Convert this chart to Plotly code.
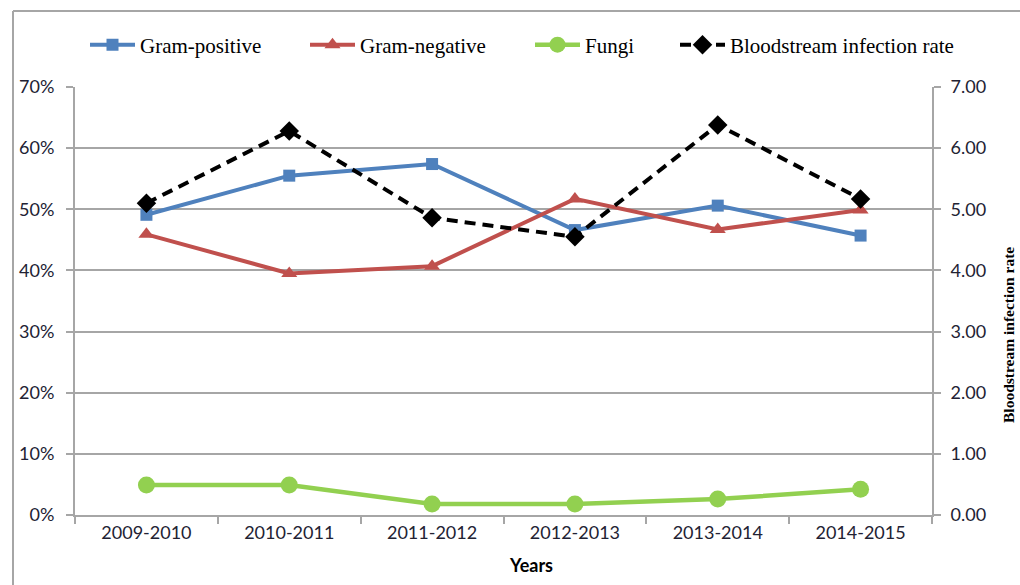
import plotly.graph_objects as go

years = ["2009-2010", "2010-2011", "2011-2012", "2012-2013", "2013-2014", "2014-2015"]
gram_positive = [0.491, 0.555, 0.574, 0.466, 0.506, 0.457]
gram_negative = [0.459, 0.395, 0.407, 0.517, 0.467, 0.499]
fungi = [0.049, 0.049, 0.018, 0.018, 0.026, 0.042]
bsi_rate = [5.10, 6.28, 4.86, 4.55, 6.38, 5.17]

left_ticks = [0, 0.1, 0.2, 0.3, 0.4, 0.5, 0.6, 0.7]
right_ticks = [0, 1, 2, 3, 4, 5, 6, 7]

BLUE = "#4F81BD"
RED = "#C0504D"
GREEN = "#92D050"
GRID = "#A6A6A6"
TXT = "#222233"

fig = go.Figure()
fig.add_trace(go.Scatter(x=years, y=gram_positive, name="Gram-positive", mode="lines+markers",
                         legend="legend",
                         line=dict(color=BLUE, width=4),
                         marker=dict(symbol="square", size=12, color=BLUE)))
fig.add_trace(go.Scatter(x=years, y=gram_negative, name="Gram-negative", mode="lines+markers",
                         legend="legend2",
                         line=dict(color=RED, width=4),
                         marker=dict(symbol="triangle-up", size=14, color=RED)))
fig.add_trace(go.Scatter(x=years, y=fungi, name="Fungi", mode="lines+markers",
                         legend="legend3",
                         line=dict(color=GREEN, width=4.5),
                         marker=dict(symbol="circle", size=17, color=GREEN)))
fig.add_trace(go.Scatter(x=years, y=bsi_rate, name="Bloodstream infection rate", mode="lines+markers",
                         yaxis="y2", legend="legend4",
                         line=dict(color="black", width=4, dash="11px,7px"),
                         marker=dict(symbol="diamond", size=15, color="black")))

tickfont = dict(family="Lato, Liberation Sans, sans-serif", size=18, color=TXT)
legfont = dict(family="Liberation Serif, Times New Roman, serif", size=21, color="black")


def leg(px):
    return dict(orientation="h", x=px / 1020, xref="container", xanchor="left",
                y=1 - 45 / 585, yref="container", yanchor="middle",
                font=legfont, itemwidth=45, bgcolor="rgba(0,0,0,0)")


fig.update_layout(
    width=1020, height=585,
    margin=dict(l=75, r=88, t=87, b=70, autoexpand=False),
    paper_bgcolor="white", plot_bgcolor="white",
    showlegend=True,
    legend=leg(85), legend2=leg(305), legend3=leg(530), legend4=leg(675),
    xaxis=dict(type="category", categoryorder="array", categoryarray=years,
               range=[-0.5, 5.5], showgrid=False, showline=True, linecolor=GRID, linewidth=2,
               ticks="outside", tickson="boundaries", ticklen=7, tickcolor=GRID, tickwidth=2,
               tickfont=tickfont, zeroline=False, automargin=False),
    yaxis=dict(range=[0, 0.7], tickvals=left_ticks, tickformat=".0%", showgrid=True,
               gridcolor=GRID, gridwidth=1.5, showline=True, linecolor=GRID, linewidth=2,
               ticks="outside", ticklen=7, tickcolor=GRID, tickwidth=2, zeroline=False,
               tickfont=tickfont, ticklabelstandoff=8, automargin=False),
    yaxis2=dict(range=[0, 7], tickvals=right_ticks, tickformat=".2f", overlaying="y", side="right",
                showgrid=False, showline=True, linecolor=GRID, linewidth=2,
                ticks="outside", ticklen=7, tickcolor=GRID, tickwidth=2, zeroline=False,
                tickfont=tickfont, ticklabelstandoff=6, automargin=False),
    annotations=[
        dict(text="<b>Years</b>", xref="paper", yref="paper", x=(531 - 75) / 857, y=-(565 - 515) / 428,
             showarrow=False, xanchor="center", yanchor="middle",
             font=dict(family="Lato, Liberation Sans, sans-serif", size=18, color="black")),
        dict(text="<b>Bloodstream infection rate</b>", xref="paper", yref="paper",
             x=(1008 - 75) / 857, y=(515 - 335) / 428, textangle=-90, showarrow=False,
             xanchor="center", yanchor="middle",
             font=dict(family="Liberation Serif, Times New Roman, serif", size=15.5, color="black")),
    ],
    shapes=[
        dict(type="line", xref="paper", yref="paper", x0=(13 - 75) / 857, x1=1.2,
             y0=(515 - 11) / 428, y1=(515 - 11) / 428, line=dict(color=GRID, width=2)),
        dict(type="line", xref="paper", yref="paper", x0=(13 - 75) / 857, x1=(13 - 75) / 857,
             y0=(515 - 11) / 428, y1=-0.3, line=dict(color=GRID, width=2)),
    ],
)

fig.write_html("out.html", config={"displayModeBar": False},
               post_script="document.body.style.margin='0';document.body.style.overflow='hidden';")
